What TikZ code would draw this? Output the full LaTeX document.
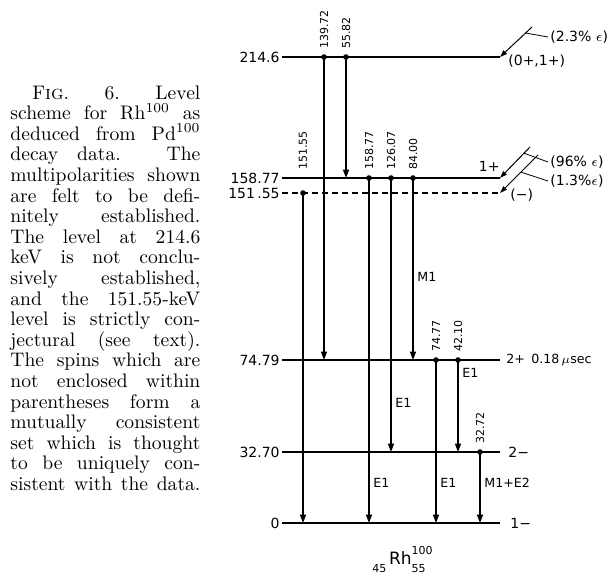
\documentclass[tikz,border=0pt]{standalone}
\usepackage{fontspec}
\usepackage{tikz}
\usetikzlibrary{arrows.meta, positioning, calc}
\newfontfamily\lblfont{DejaVu Sans}
\newcommand\nucsmall{\lblfont\fontsize{5.5}{6}\selectfont}
\newcommand\capline[1]{\makebox[95pt][s]{#1}}

\begin{document}
\begin{tikzpicture}[
  x=0.5pt, y=-0.5pt,
  lvl/.style={line width=0.75pt},
  gam/.style={line width=0.75pt, -{Triangle[width=3pt,length=4.2pt]}},
  feed/.style={line width=0.5pt, -{Triangle[width=2.4pt,length=3.6pt]}},
  lead/.style={line width=0.4pt},
  dot/.style={circle, fill, inner sep=0pt, minimum size=2.8pt},
  lbl/.style={font=\lblfont\fontsize{7}{8}\selectfont, inner sep=1pt},
  mult/.style={lbl, font=\lblfont\fontsize{6.3}{7}\selectfont, anchor=west, inner xsep=2pt},
  egy/.style={lbl, font=\lblfont\fontsize{5.5}{6}\selectfont, rotate=90, anchor=west, inner xsep=4pt},
  capt/.style={anchor=north west, inner sep=0pt, align=left,
    font=\fontsize{9.8}{10.3}\selectfont},
  nuc/.style={font=\lblfont\fontsize{8.5}{9}\selectfont, inner sep=0pt},
]
\useasboundingbox (0,0) rectangle (607,578);

% caption
\node[capt] (caption) at (10,85) {%
  \capline{\hspace*{11pt}F\textsc{ig}. 6. Level}\\
  \capline{scheme for Rh\textsuperscript{100} as}\\
  \capline{deduced from Pd\textsuperscript{100}}\\
  \capline{decay data. The}\\
  \capline{multipolarities shown}\\
  \capline{are felt to be defi-}\\
  \capline{nitely established.}\\
  \capline{The level at 214.6}\\
  \capline{keV is not conclu-}\\
  \capline{sively established,}\\
  \capline{and the 151.55-keV}\\
  \capline{level is strictly con-}\\
  \capline{jectural (see text).}\\
  \capline{The spins which are}\\
  \capline{not enclosed within}\\
  \capline{parentheses form a}\\
  \capline{mutually consistent}\\
  \capline{set which is thought}\\
  \capline{to be uniquely con-}\\
  \capline{sistent with the data.}};

% levels
\coordinate (L214) at (282,57);  \coordinate (R214) at (500,57);
\coordinate (L158) at (282,178); \coordinate (R158) at (500,178);
\coordinate (L151) at (282,193); \coordinate (R151) at (500,193);
\coordinate (L74)  at (282,360); \coordinate (R74)  at (500,360);
\coordinate (L32)  at (282,452); \coordinate (R32)  at (500,452);
\coordinate (L0)   at (282,523); \coordinate (R0)   at (500,523);

\foreach \l in {214,158,74,32,0}
  \draw[lvl] (L\l) -- (R\l);
\draw[lvl, dash pattern=on 3pt off 2pt] (L151) -- (R151);

\node[lbl, anchor=east] (e214) at (L214) {214.6};
\node[lbl, anchor=east] (e158) at (L158) {158.77};
\node[lbl, anchor=east] (e151) at (L151) {151\,.55};
\node[lbl, anchor=east] (e74)  at (L74)  {74.79};
\node[lbl, anchor=east] (e32)  at (L32)  {32.70};
\node[lbl, anchor=east] (e0)   at (L0)   {0};

% spins
\node[lbl, anchor=west] (s214) at ([xshift=3pt,yshift=-2pt]R214) {(0+,1+)};
\node[lbl, anchor=south east] (s158) at ([xshift=1pt,yshift=2pt]R158) {1+};
\node[lbl, anchor=west] (s151) at ([xshift=4pt,yshift=-1pt]R151) {(−)};
\node[mult, inner xsep=1pt] (s74) at ([xshift=2pt]R74) {2+\enspace 0.18\,$\mu$sec};
\node[lbl, anchor=west] (s32)  at ([xshift=3pt]R32) {2−};
\node[lbl, anchor=west] (s0)   at ([xshift=4pt]R0) {1−};

% electron capture feeding
\coordinate (f214) at (532,27);
\coordinate (f158) at (530,147);
\coordinate (f151) at (538,155);
\draw[feed] (f214) -- (R214);
\draw[feed] (f158) -- (R158);
\draw[feed] (f151) -- (R151);
\node[lbl, anchor=west] (p214) at (548,37)  {(2.3\% $\epsilon$)};
\node[lbl, anchor=west] (p158) at (548,162) {(96\% $\epsilon$)};
\node[lbl, anchor=west] (p151) at (548,181) {(1.3\%$\epsilon$)};
\draw[lead] ($(f214)!0.2!(R214)$) -- (p214.west);
\draw[lead] ($(f158)!0.2!(R158)$) -- (p158.west);
\draw[lead] ($(f151)!0.45!(R151)$) -- (p151.west);

% gamma transitions
\foreach \i/\x/\a/\b/\c/\e in {
    1/324/214/74/214/139.72,
    2/346/214/158/214/55.82,
    3/303/151/0/158/151.55,
    4/369/158/0/158/158.77,
    5/391/158/32/158/126.07,
    6/413/158/74/158/84.00,
    7/436/74/0/74/74.77,
    8/458/74/32/74/42.10,
    9/480/32/0/32/32.72}{
  \coordinate (g\i) at (\x,0);
  \draw[gam] (g\i |- L\a) -- (g\i |- L\b);
  \node[dot] (d\i) at (g\i |- L\a) {};
  \node[egy] (t\i) at (g\i |- L\c) {\e};
}

% multipolarities
\node[mult] (m6) at (g6 |- 0,277) {M1};
\node[mult] (m5) at (g5 |- 0,403) {E1};
\node[mult] (m8) at (g8 |- 0,373) {E1};
\node[mult] (m4) at (g4 |- 0,483) {E1};
\node[mult] (m7) at (g7 |- 0,483) {E1};
\node[mult] (m9) at (g9 |- 0,483) {M1+E2};

% nucleus
\node[nuc] (nucl) at (399,559)
  {\raisebox{-4pt}{\nucsmall 45}\,Rh\rlap{\raisebox{5pt}{\nucsmall 100}}\raisebox{-4pt}{\nucsmall 55}};
\end{tikzpicture}
\end{document}
